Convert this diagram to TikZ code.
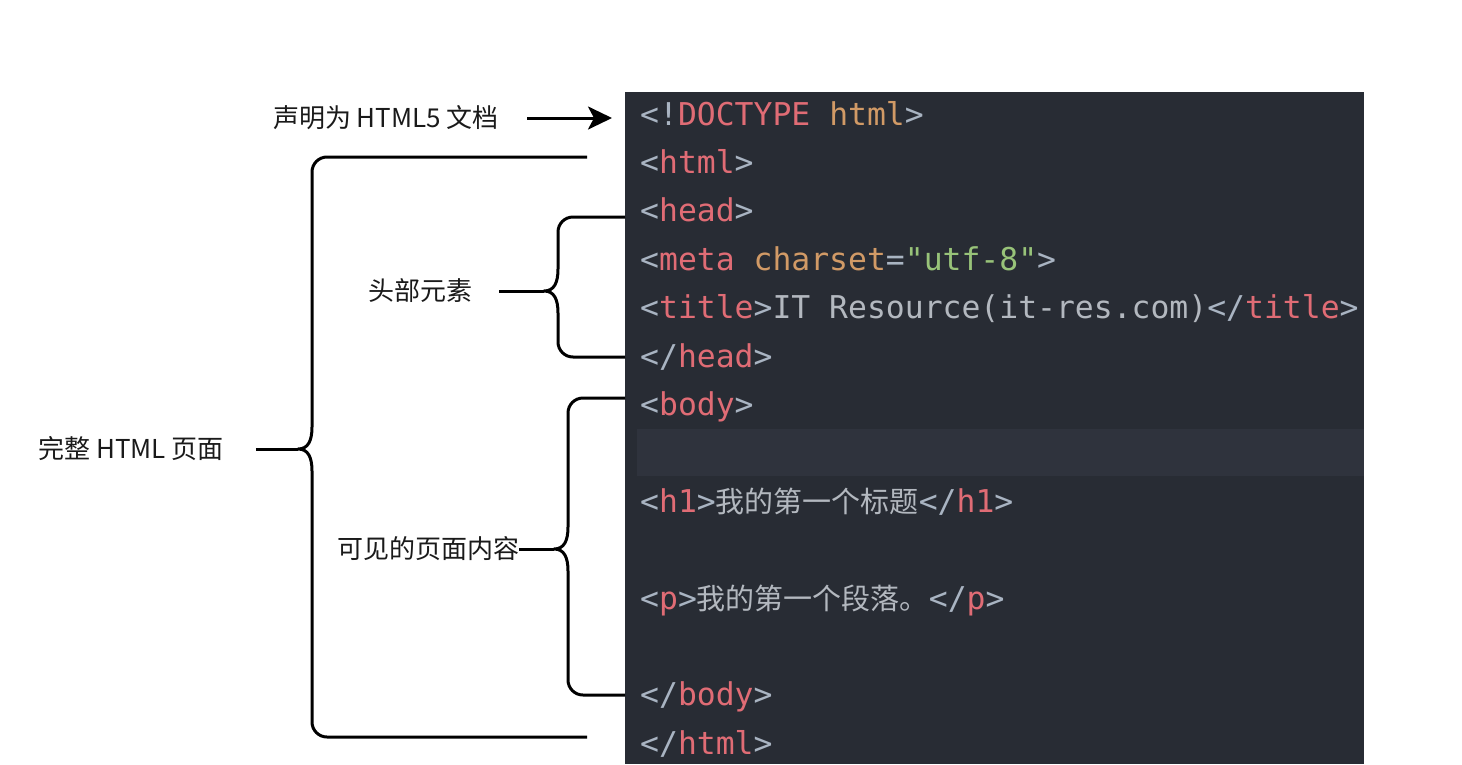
\documentclass[tikz,border=0pt]{standalone}
\usepackage{fontspec}
\newfontfamily\cjk{Noto Sans CJK SC}
\newfontfamily\codefont{DejaVu Sans Mono}
\usetikzlibrary{arrows.meta, positioning, calc}
\definecolor{panel}{HTML}{282C34}
\definecolor{hiline}{HTML}{2F333D}
\definecolor{punct}{HTML}{A9B4C2}
\definecolor{tagred}{HTML}{E06C75}
\definecolor{attr}{HTML}{D19A66}
\definecolor{strgreen}{HTML}{98C379}
\definecolor{plain}{HTML}{B3B8BF}
\definecolor{ink}{HTML}{1A1A1A}
\newcommand{\pn}[1]{\textcolor{punct}{#1}}
\newcommand{\tg}[1]{\textcolor{tagred}{#1}}
\newcommand{\zh}[1]{{\cjk\fontsize{29}{29}\selectfont\textcolor{plain}{#1}}}

\begin{document}
\begin{tikzpicture}[x=1pt, y=-1pt]
\tikzset{
  lbl/.style={font=\cjk\fontsize{26}{26}\selectfont, text=ink, inner sep=0pt},
  code/.style={font=\codefont\fontsize{31.4}{31.4}\selectfont, anchor=base west, inner sep=0pt, text=plain},
  brc/.style={line width=3pt, line join=round},
  arr/.style={line width=3pt, -{Stealth[length=24pt, width=23pt, inset=6pt]}}
}
  \useasboundingbox (0,0) rectangle (1462,764);
  \fill[panel] (625,92) rectangle (1364,764);
  \fill[hiline] (637,429) rectangle (1364,476);

  \node [code] (c0) at (640,125) {\pn{<!}\tg{DOCTYPE} \textcolor{attr}{html}\pn{>}};
  \node [code] (c1) at (640,173.4) {\pn{<}\tg{html}\pn{>}};
  \node [code] (c2) at (640,221.8) {\pn{<}\tg{head}\pn{>}};
  \node [code] (c3) at (640,270.2) {\pn{<}\tg{meta} \textcolor{attr}{charset}\pn{=}\textcolor{strgreen}{"utf-8"}\pn{>}};
  \node [code] (c4) at (640,318.6) {\pn{<}\tg{title}\pn{>}IT Resource(it-res.com)\pn{</}\tg{title}\pn{>}};
  \node [code] (c5) at (640,367) {\pn{</}\tg{head}\pn{>}};
  \node [code] (c6) at (640,415.4) {\pn{<}\tg{body}\pn{>}};
  \node [code] (c8) at (640,512.2) {\pn{<}\tg{h1}\pn{>}\zh{我的第一个标题}\pn{</}\tg{h1}\pn{>}};
  \node [code] (c10) at (640,609) {\pn{<}\tg{p}\pn{>}\zh{我的第一个段落。}\pn{</}\tg{p}\pn{>}};
  \node [code] (c12) at (640,705.8) {\pn{</}\tg{body}\pn{>}};
  \node [code] (c13) at (640,754.2) {\pn{</}\tg{html}\pn{>}};

  \node [lbl] (decl) at (386,118) {声明为 HTML5 文档};
  \node [lbl] (pg) at (131,449) {完整 HTML 页面};
  \node [lbl] (hd) at (420,291) {头部元素};
  \node [lbl] (bd) at (428,549) {可见的页面内容};

  \draw[arr, shorten <=28pt, shorten >=28pt] (decl.east) -- (decl.east -| c0.west);

  \foreach \nm/\X/\T/\B/\Y/\R/\gap in {pg/312/157/737/449/587/32, hd/558/217/357/291/625/27, bd/568/398/695/549/625/0} {
    \draw[brc] (\R,\T) -- (\X+15,\T) .. controls (\X+6.7,\T) and (\X,\T+6.7) .. (\X,\T+15)
      -- (\X,\Y-22) .. controls (\X,\Y-8) and (\X-4,\Y) .. (\X-14,\Y)
      .. controls (\X-4,\Y) and (\X,\Y+8) .. (\X,\Y+22)
      -- (\X,\B-15) .. controls (\X,\B-6.7) and (\X+6.7,\B) .. (\X+15,\B) -- (\R,\B);
    \draw[brc, shorten <=\gap pt] (\nm.east) -- (\X-14,\Y);
  }
\end{tikzpicture}
\end{document}
